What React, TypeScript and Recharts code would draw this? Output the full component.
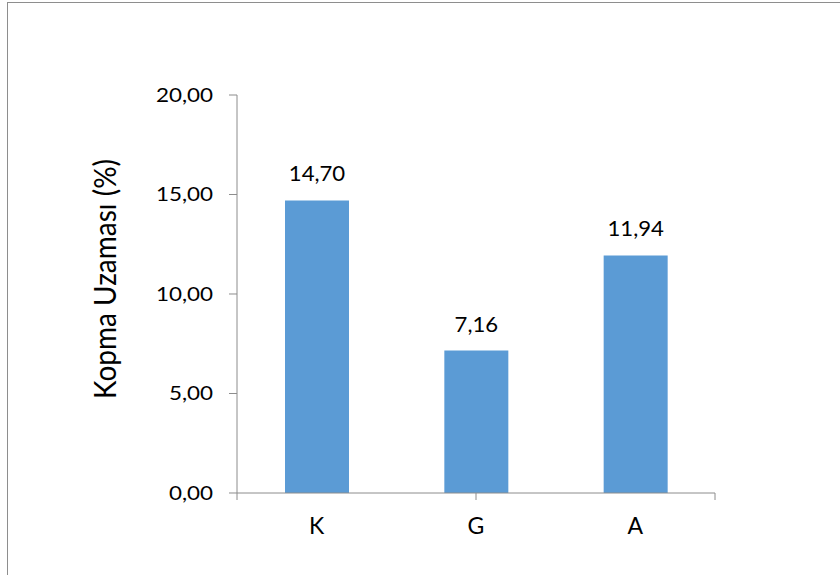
import React from 'react';
import { BarChart, Bar, XAxis, YAxis, LabelList } from 'recharts';

const categories = ['K', 'G', 'A'];
const values = [14.7, 7.16, 11.94];
const yTicks = [0, 5, 10, 15, 20];
const yLabel = 'Kopma Uzaması (%)';

const data = categories.map((name, i) => ({ name, value: values[i] }));

const fmt = (v: number) => v.toFixed(2).replace('.', ',');
const FONT = 'Lato, "Open Sans", sans-serif';
const AXIS = '#8c8c8c';

function WideText({ x, y, anchor, dy, children, size, sx = 1 }: any) {
  return (
    <text
      transform={`translate(${x},${y}) scale(${sx},1)`}
      textAnchor={anchor}
      dy={dy}
      fontSize={size}
      fontFamily={FONT}
      fill="#000"
    >
      {children}
    </text>
  );
}

export default function App() {
  return (
    <div style={{ position: 'absolute', left: 0, top: 0, width: 840, height: 575, background: '#fff' }}>
      <div
        style={{
          position: 'absolute',
          left: 7,
          top: 2,
          right: 0,
          bottom: 0,
          borderTop: '1.5px solid #8e8e8e',
          borderLeft: '1.5px solid #8e8e8e',
        }}
      />
      <div style={{ position: 'absolute', left: 0, top: 0 }}>
        <BarChart width={840} height={575} data={data} margin={{ top: 95, right: 125, bottom: 80, left: 0 }}>
          <XAxis
            xAxisId="grid"
            type="number"
            domain={[0, 3]}
            ticks={[0, 1, 2, 3]}
            stroke={AXIS}
            tickSize={7}
            tickFormatter={() => ''}
            height={2}
          />
          <XAxis
            dataKey="name"
            xAxisId="cat"
            axisLine={false}
            tickLine={false}
            height={0.01}
            tickSize={0}
            tickMargin={0}
            tick={(p: any) => (
              <WideText x={p.x} y={p.y + 41} anchor="middle" size={23}>
                {p.payload.value}
              </WideText>
            )}
          />
          <YAxis
            width={237}
            domain={[0, 20]}
            ticks={yTicks}
            stroke={AXIS}
            tickSize={8}
            tickMargin={16}
            tick={(p: any) => (
              <WideText x={p.x} y={p.y} anchor="end" dy="0.35em" size={19.5} sx={1.15}>
                {fmt(p.payload.value)}
              </WideText>
            )}
            label={{
              content: ({ viewBox }: any) => {
                const cx = viewBox.x + 105;
                const cy = viewBox.y + viewBox.height / 2 - 15;
                return (
                  <text
                    transform={`translate(${cx},${cy}) scale(1.1,1) rotate(-90)`}
                    textAnchor="middle"
                    dy="0.35em"
                    fontSize={28}
                    fontFamily={FONT}
                    fill="#000"
                  >
                    {yLabel}
                  </text>
                );
              },
            }}
          />
          <Bar dataKey="value" xAxisId="cat" fill="#5b9bd5" barSize={64} isAnimationActive={false}>
            <LabelList
              dataKey="value"
              content={(p: any) => (
                <WideText x={p.x + p.width / 2} y={p.y - 19} anchor="middle" size={21.5} sx={1.03}>
                  {fmt(Number(p.value))}
                </WideText>
              )}
            />
          </Bar>
        </BarChart>
      </div>
    </div>
  );
}
